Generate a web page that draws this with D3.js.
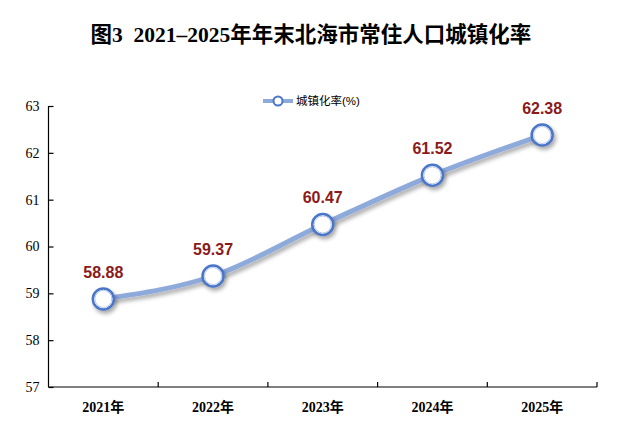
<!DOCTYPE html>
<html>
<head>
<meta charset="utf-8">
<script src="https://cdn.jsdelivr.net/npm/d3@7"></script>
<style>
  body { margin: 0; background: #fff; }
</style>
</head>
<body>
<svg id="chart" width="644" height="428"></svg>
<script>
// chart data
var years = ["2021年", "2022年", "2023年", "2024年", "2025年"];
var rates = [58.88, 59.37, 60.47, 61.52, 62.38];
var yTicks = [57, 58, 59, 60, 61, 62, 63];

var TITLE = "图3  2021–2025年年末北海市常住人口城镇化率";
var LEGEND = "城镇化率(%)";

var W = 644, H = 428;
var margin = { left: 48.5, right: 47, top: 106, bottom: 41 };

var LINE_COLOR = "#8eaadb";
var MARK_STROKE = "#4a76c8";
var LABEL_COLOR = "#8b1a1a";
var SERIF = "'Liberation Serif', 'Times New Roman', 'Noto Sans CJK SC', serif";
var SANS = "'Liberation Sans', Arial, 'Noto Sans CJK SC', sans-serif";

var svg = d3.select("#chart");
var defs = svg.append("defs");

var shadow = defs.append("filter").attr("id", "shadow")
	.attr("x", "-50%").attr("y", "-50%").attr("width", "200%").attr("height", "200%");
shadow.append("feGaussianBlur").attr("in", "SourceAlpha").attr("stdDeviation", 2);
shadow.append("feOffset").attr("dx", 2).attr("dy", 3).attr("result", "off");
shadow.append("feComponentTransfer").append("feFuncA").attr("type", "linear").attr("slope", 0.35);
var merge = shadow.append("feMerge");
merge.append("feMergeNode");
merge.append("feMergeNode").attr("in", "SourceGraphic");

var x = d3.scaleBand().domain(years)
	.range([margin.left, W - margin.right]);
var y = d3.scaleLinear().domain([57, 63])
	.range([H - margin.bottom, margin.top]);

// title
svg.append("text")
	.attr("x", 311).attr("y", 42)
	.attr("text-anchor", "middle")
	.attr("font-family", SERIF)
	.attr("font-weight", "bold")
	.attr("font-size", 21.5)
	.attr("fill", "#000")
	.style("white-space", "pre")
	.text(TITLE);

// y axis
var yAxis = d3.axisLeft(y).tickValues(yTicks).tickSize(-5).tickPadding(9).tickFormat(d3.format("d"));
var gy = svg.append("g")
	.attr("transform", "translate(" + margin.left + ",0)")
	.call(yAxis);
gy.select(".domain").attr("stroke", "#000").attr("stroke-width", 1.2).attr("d",
	"M0," + y(63) + "V" + y(57));
gy.selectAll(".tick line").attr("stroke", "#000").attr("stroke-width", 1.2);
gy.selectAll(".tick text")
	.attr("font-family", SERIF)
	.attr("font-size", 14)
	.attr("fill", "#000");

// x axis
var gx = svg.append("g")
	.attr("transform", "translate(0," + y(57) + ")");
gx.append("line")
	.attr("x1", margin.left).attr("x2", W - margin.right)
	.attr("stroke", "#000").attr("stroke-width", 1.2);
var bounds = years.map(function(d) { return x(d) + x.bandwidth(); });
gx.selectAll("line.sep").data(bounds).enter().append("line")
	.attr("class", "sep")
	.attr("x1", function(d) { return d; }).attr("x2", function(d) { return d; })
	.attr("y1", 0).attr("y2", -5)
	.attr("stroke", "#000").attr("stroke-width", 1.2);
gx.selectAll("text").data(years).enter().append("text")
	.attr("x", function(d) { return x(d) + x.bandwidth() / 2; })
	.attr("y", 25)
	.attr("text-anchor", "middle")
	.attr("font-family", SERIF)
	.attr("font-weight", "bold")
	.attr("font-size", 14)
	.attr("fill", "#000")
	.text(function(d) { return d; });

// series
var pts = years.map(function(d, i) {
	return [x(d) + x.bandwidth() / 2, y(rates[i])];
});

var line = d3.line().curve(d3.curveMonotoneX);
svg.append("path")
	.attr("d", line(pts))
	.attr("fill", "none")
	.attr("stroke", LINE_COLOR)
	.attr("stroke-width", 5)
	.attr("stroke-linecap", "round")
	.attr("filter", "url(#shadow)");

var marks = svg.append("g").selectAll("g").data(pts).enter().append("g")
	.attr("filter", "url(#shadow)");
marks.append("circle")
	.attr("cx", function(d) { return d[0]; })
	.attr("cy", function(d) { return d[1]; })
	.attr("r", 10.5)
	.attr("fill", "#fff")
	.attr("stroke", MARK_STROKE)
	.attr("stroke-width", 2.5);
marks.append("circle")
	.attr("cx", function(d) { return d[0]; })
	.attr("cy", function(d) { return d[1]; })
	.attr("r", 8.5)
	.attr("fill", "none")
	.attr("stroke", "#b7c9ea")
	.attr("stroke-width", 1);

svg.append("g").selectAll("text").data(pts).enter().append("text")
	.attr("x", function(d) { return d[0]; })
	.attr("y", function(d) { return d[1] - 21; })
	.attr("text-anchor", "middle")
	.attr("font-family", SANS)
	.attr("font-weight", "bold")
	.attr("font-size", 16)
	.attr("fill", LABEL_COLOR)
	.text(function(d, i) { return rates[i].toFixed(2); });

// legend
var lg = svg.append("g").attr("transform", "translate(263,101)");
lg.append("line").attr("x1", 0).attr("x2", 30)
	.attr("stroke", LINE_COLOR).attr("stroke-width", 4);
lg.append("circle").attr("cx", 15).attr("r", 4.5)
	.attr("fill", "#fff").attr("stroke", MARK_STROKE).attr("stroke-width", 2);
lg.append("text").attr("x", 33).attr("y", 4)
	.attr("font-family", SANS)
	.attr("font-size", 11.5)
	.attr("fill", "#000")
	.text(LEGEND);
</script>
</body>
</html>
